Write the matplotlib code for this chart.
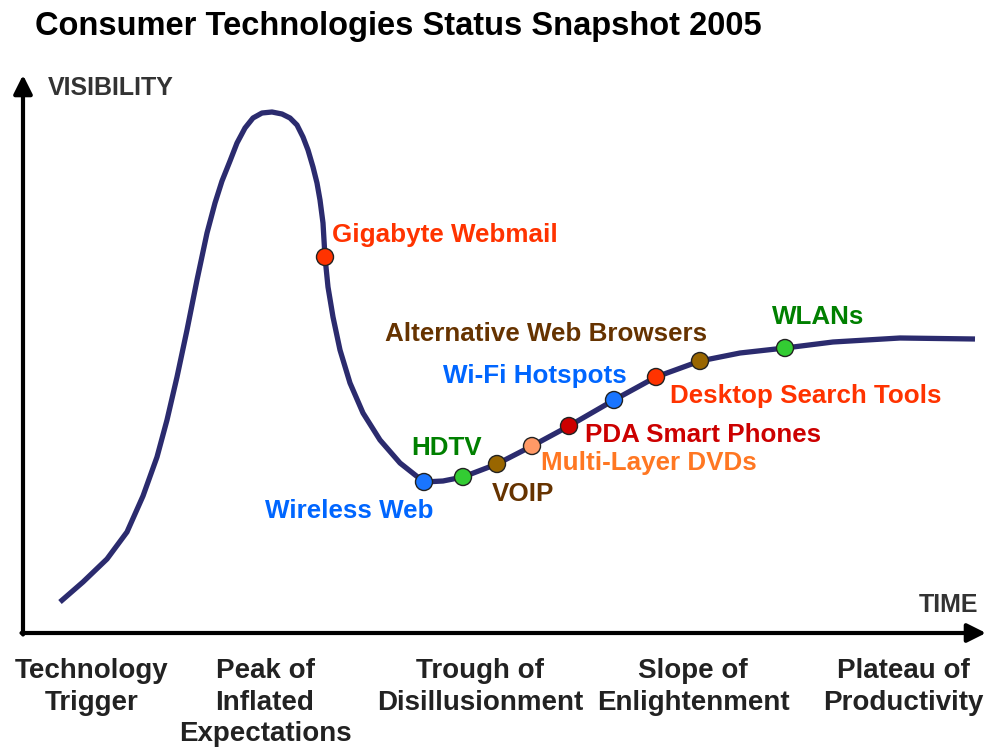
import matplotlib
matplotlib.use('Agg')
import matplotlib.pyplot as plt

plt.rcParams['font.family'] = ['Liberation Sans', 'DejaVu Sans']

# hype curve (time, visibility above the time axis)
curve_time = [60, 83, 107, 127, 143, 157, 167, 177, 187, 197, 207, 215, 222, 230, 237, 245,
              253, 262, 272, 282, 290, 297, 303, 308, 313, 317, 320, 323, 325, 328, 333, 340,
              350, 363, 380, 400, 424, 443, 463, 497, 532, 569, 614, 656, 700, 740, 785, 833,
              900, 975]
curve_vis = [31, 51, 74, 101, 137, 176, 213, 256, 303, 353, 400, 430, 452, 472, 490, 505,
             515, 520, 521, 519, 515, 508, 496, 483, 466, 450, 433, 410, 376, 346, 316, 283,
             250, 220, 193, 170, 151, 152, 156, 169, 187, 207, 233, 256, 272, 280, 285, 291,
             295, 294]

# technologies on the curve
tech_names = ['Gigabyte Webmail', 'Wireless Web', 'HDTV', 'VOIP', 'Multi-Layer DVDs',
              'PDA Smart Phones', 'Wi-Fi Hotspots', 'Desktop Search Tools',
              'Alternative Web Browsers', 'WLANs']
tech_time = [325, 424, 463, 497, 532, 569, 614, 656, 700, 785]
tech_vis = [376, 151, 156, 169, 187, 207, 233, 256, 272, 285]
dot_colors = ['#ff3300', '#1a75ff', '#33cc33', '#996600', '#ff9966',
              '#cc0000', '#1a75ff', '#ff3300', '#996600', '#33cc33']
text_colors = ['#ff3300', '#0066ff', '#008000', '#663300', '#ff7722',
               '#cc0000', '#0066ff', '#ff3300', '#663300', '#008000']

phases = ['Technology\nTrigger', 'Peak of\nInflated\nExpectations', 'Trough of\nDisillusionment',
          'Slope of\nEnlightenment', 'Plateau of\nProductivity']

# label placement (left x, centre y) for each technology
label_pos = [(332, 398), (265, 122), (411, 185), (492, 139), (541, 170),
             (585, 198), (443, 257), (670, 237), (385, 299), (772, 316)]
phase_x = [92, 265, 480, 693, 903]

fig = plt.figure(figsize=(9.89, 7.49), dpi=100)
ax = fig.add_axes([0, 0, 1, 1])
ax.set_xlim(0, 989)
ax.set_ylim(633 - 749, 633)
ax.axis('off')

# axes with arrows
ax.annotate('', xy=(23, 558), xytext=(23, -1.5),
            arrowprops=dict(arrowstyle='-|>', lw=3, color='black', mutation_scale=28,
                            shrinkA=0, shrinkB=0))
ax.annotate('', xy=(986, 0), xytext=(21.5, 0),
            arrowprops=dict(arrowstyle='-|>', lw=3, color='black', mutation_scale=28,
                            shrinkA=0, shrinkB=0))

ax.plot(curve_time, curve_vis, color='#2b2b6e', lw=3.8, solid_capstyle='butt',
        solid_joinstyle='round', zorder=2)
ax.scatter(tech_time, tech_vis, s=150, c=dot_colors, edgecolors='#222222', linewidths=1,
           zorder=3)

for name, col, (lx, ly) in zip(tech_names, text_colors, label_pos):
    ax.text(lx, ly, name, color=col, fontsize=18.7, fontweight='bold', ha='left', va='center')

for label, px in zip(phases, phase_x):
    ax.text(px, -25, label, fontsize=20, fontweight='bold', color='#222222',
            ha='center', va='top', linespacing=1.28)

ax.text(35, 606, 'Consumer Technologies Status Snapshot 2005', fontsize=23.5,
        fontweight='bold', ha='left', va='center', color='black')
ax.text(48, 545, 'VISIBILITY', fontsize=18, fontweight='bold', color='#333333',
        ha='left', va='center')
ax.text(978, 28, 'TIME', fontsize=18, fontweight='bold', color='#333333',
        ha='right', va='center')

fig.savefig('out.png', dpi=100, facecolor='white')
